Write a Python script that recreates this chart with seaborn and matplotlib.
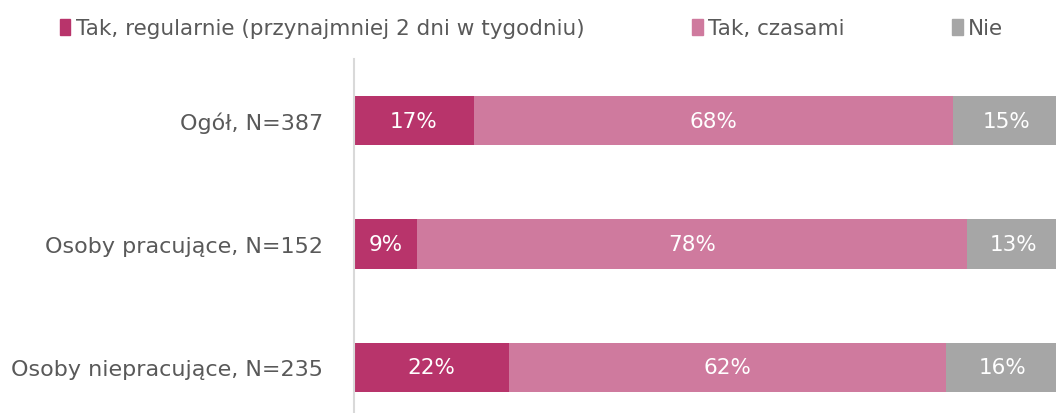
import numpy as np
import matplotlib.pyplot as plt
import seaborn as sns
import pandas as pd
from matplotlib.patches import Patch

groups = ['Ogół, N=387', 'Osoby pracujące, N=152', 'Osoby niepracujące, N=235']
series = ['Tak, regularnie (przynajmniej 2 dni w tygodniu)', 'Tak, czasami', 'Nie']
regular = [17, 9, 22]
sometimes = [68, 78, 62]
never = [15, 13, 16]
colors = ['#B8346B', '#CF7A9E', '#A6A6A6']

sns.set_style('white')
plt.rcParams['font.family'] = ['DejaVu Sans']

df = pd.DataFrame({'group': groups, 'a': regular, 'b': sometimes, 'c': never})
df['cum_a'] = df['a']
df['cum_b'] = df['a'] + df['b']
df['cum_c'] = df['a'] + df['b'] + df['c']

fig = plt.figure(figsize=(10.56, 4.14), dpi=100)
ax = fig.add_axes([0.335, 0.0, 0.668, 0.855])

# stacked by overdrawing cumulative totals
for col, c in zip(['cum_c', 'cum_b', 'cum_a'], colors[::-1]):
    sns.barplot(data=df, y='group', x=col, color=c, orient='h', width=0.4,
                ax=ax, saturation=1, linewidth=0)

for i, row in df.iterrows():
    left = 0
    for v in [row['a'], row['b'], row['c']]:
        ax.text(left + v / 2, i, f'{v}%', ha='center', va='center',
                color='white', fontsize=15.5)
        left += v

ax.set_xlim(0, 100)
ax.set_ylim(2.37, -0.5)
ax.set_xlabel('')
ax.set_ylabel('')
ax.set_xticks([])
for s in ['top', 'right', 'bottom']:
    ax.spines[s].set_visible(False)
ax.spines['left'].set_color('#D9D9D9')
ax.spines['left'].set_linewidth(1.5)
ax.tick_params(axis='y', length=0, pad=22, labelsize=16, labelcolor='#595959')

handles = [Patch(color=c, label=s) for c, s in zip(colors, series)]
fig.legend(handles=handles, loc='upper left', bbox_to_anchor=(0.038, 1.0), ncol=3,
           frameon=False, fontsize=15.5, handlelength=0.5, handleheight=0.8,
           handletextpad=0.25, columnspacing=5.0, labelcolor='#595959')

fig.savefig('out.png', dpi=100)
